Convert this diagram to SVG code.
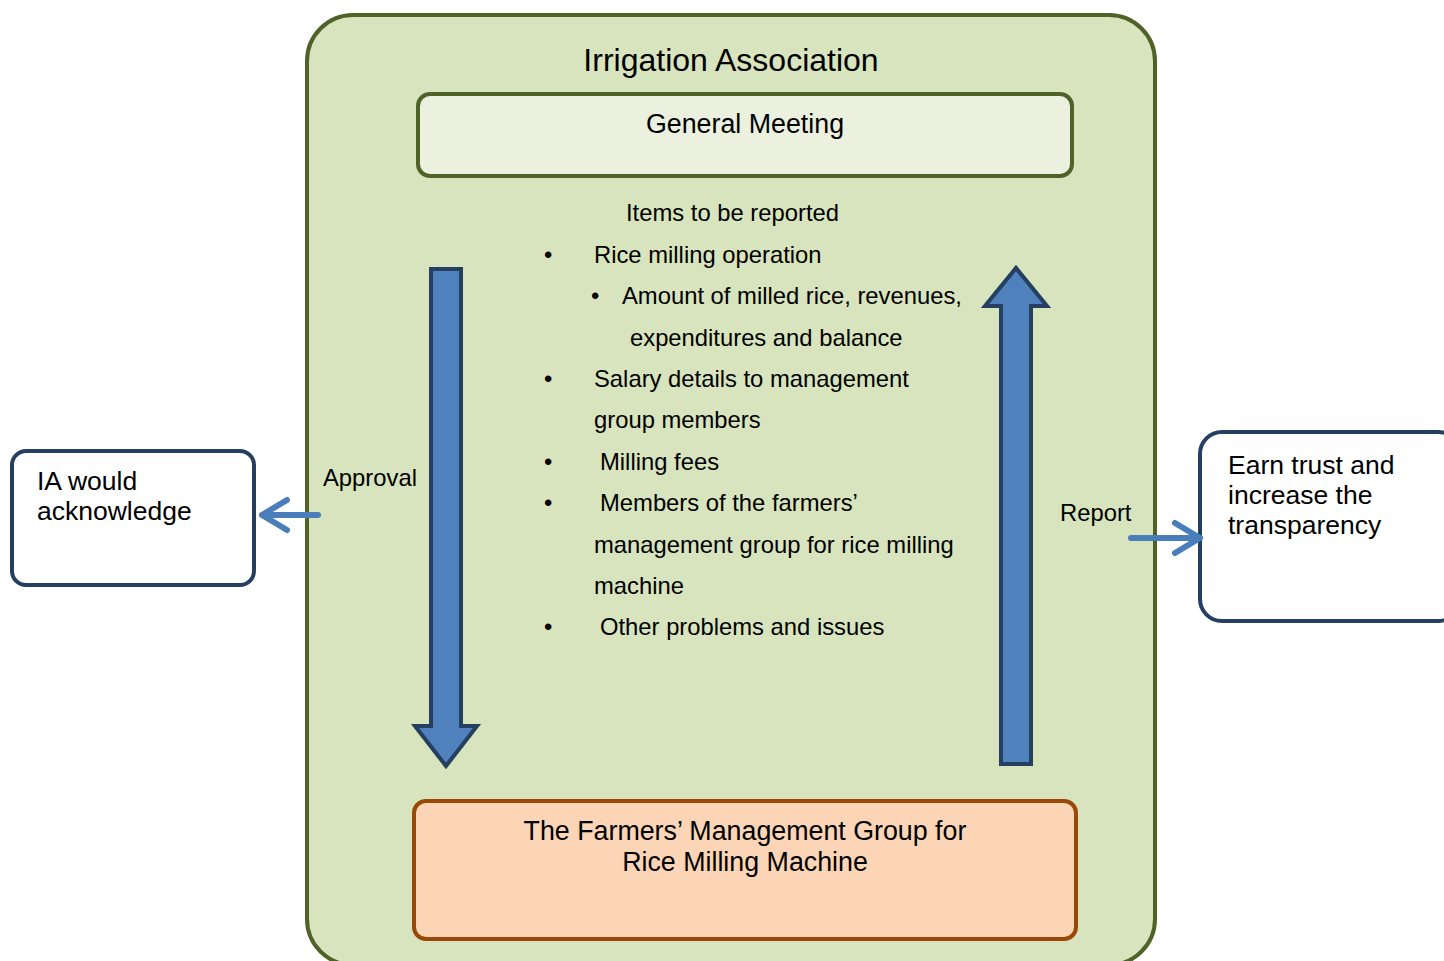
<svg xmlns="http://www.w3.org/2000/svg" width="1444" height="961" viewBox="0 0 1444 961">
<style>
text{font-family:"Liberation Sans",Arial,sans-serif;fill:#000}
.t22{font-size:23.8px}
.side-t{font-size:26.5px}
.big{fill:#4F81BD;stroke:#243F60;stroke-width:4;stroke-linejoin:miter}
.small{fill:none;stroke:#4A7EBB;stroke-width:6;stroke-linecap:round;stroke-linejoin:round}
.side{fill:#fff;stroke:#243F60;stroke-width:4}
</style>
<rect width="1444" height="961" fill="#fff"/>
<g id="ia">
<rect x="307" y="15" width="848" height="950" rx="46" fill="#D7E4BD" stroke="#4F6228" stroke-width="4"/>
<text x="731" y="71" font-size="32" text-anchor="middle">Irrigation Association</text>
</g>
<g id="general-meeting">
<rect x="418" y="94" width="654" height="82" rx="12" fill="#EBF1DE" stroke="#4F6228" stroke-width="4"/>
<text x="745" y="133" font-size="26.8" text-anchor="middle">General Meeting</text>
</g>
<g id="items">
<text x="626" y="221" class="t22">Items to be reported</text>
<text x="544" y="263" class="t22">•</text><text x="594" y="263" class="t22">Rice milling operation</text>
<text x="591" y="304" class="t22">•</text><text x="622" y="304" class="t22">Amount of milled rice, revenues,</text>
<text x="630" y="346" class="t22">expenditures and balance</text>
<text x="544" y="387" class="t22">•</text><text x="594" y="387" class="t22">Salary details to management</text>
<text x="594" y="428" class="t22">group members</text>
<text x="544" y="470" class="t22">•</text><text x="600" y="470" class="t22">Milling fees</text>
<text x="544" y="511" class="t22">•</text><text x="600" y="511" class="t22">Members of the farmers’</text>
<text x="594" y="553" class="t22">management group for rice milling</text>
<text x="594" y="594" class="t22">machine</text>
<text x="544" y="635" class="t22">•</text><text x="600" y="635" class="t22">Other problems and issues</text>
</g>
<g id="farmers-group">
<rect x="414" y="801" width="662" height="138" rx="12" fill="#FBD5B5" stroke="#984807" stroke-width="4"/>
<text x="745" y="840" font-size="26.8" text-anchor="middle">The Farmers’ Management Group for</text>
<text x="745" y="871" font-size="26.8" text-anchor="middle">Rice Milling Machine</text>
</g>
<g id="ia-acknowledge">
<rect x="12" y="451" width="242" height="134" rx="14" class="side"/>
<text x="37" y="490" class="side-t">IA would</text>
<text x="37" y="520" class="side-t">acknowledge</text>
</g>
<g id="earn-trust">
<rect x="1200" y="432" width="260" height="189" rx="22" class="side"/>
<text x="1228" y="474" class="side-t">Earn trust and</text>
<text x="1228" y="504" class="side-t">increase the</text>
<text x="1228" y="534" class="side-t">transparency</text>
</g>
<g id="connectors">
<path class="big" d="M431,269 H461 V726 H477 L446,766 L415,726 H431 Z"/>
<path class="big" d="M1001,764 H1031 V306 H1047 L1016,268 L985,306 H1001 Z"/>
<path class="small" d="M318,515 H262 M287,500 L262,515 L287,530"/>
<path class="small" d="M1131,538 H1200 M1175,523 L1200,538 L1175,553"/>
<text x="323" y="486" class="t22">Approval</text>
<text x="1060" y="521" class="t22">Report</text>
</g>
</svg>
